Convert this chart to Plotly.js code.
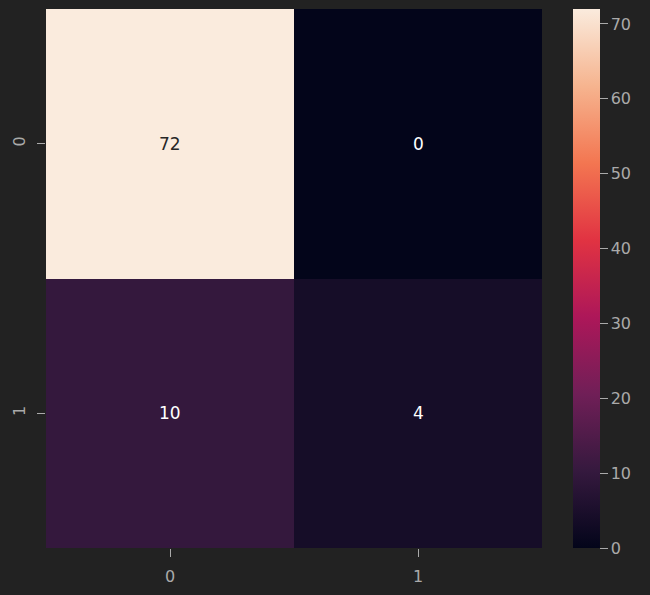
<!DOCTYPE html>
<html>
<head>
<meta charset="utf-8">
<script src="https://cdn.plot.ly/plotly-3.0.1.min.js"></script>
<style>html,body{margin:0;padding:0;background:#222222;}</style>
</head>
<body>
<div id="chart" style="width:650px;height:595px;"></div>
<script>
const xLabels = ['0', '1'];
const yLabels = ['0', '1'];
const values = [[72, 0], [10, 4]];
const colorbarTicks = [0, 10, 20, 30, 40, 50, 60, 70];

const rocket = [
  [0.0, '#03051A'],
  [0.1429, '#35193E'],
  [0.2857, '#701F57'],
  [0.4286, '#AD1759'],
  [0.5714, '#E13342'],
  [0.7143, '#F37651'],
  [0.8571, '#F6B48F'],
  [1.0, '#FAEBDD']
];

const zmax = 72;
const annotations = [];
for (let i = 0; i < yLabels.length; i++) {
  for (let j = 0; j < xLabels.length; j++) {
    const v = values[i][j];
    annotations.push({
      x: j, y: i, xref: 'x', yref: 'y', text: String(v), showarrow: false,
      font: {family: 'DejaVu Sans', size: 17, color: v / zmax > 0.6 ? '#262626' : '#ffffff'}
    });
  }
}

const tickFont = {family: 'DejaVu Sans', size: 16, color: '#aaaaaa'};

const trace = {
  type: 'heatmap',
  z: values,
  x: [0, 1],
  y: [0, 1],
  zmin: 0, zmax: zmax,
  colorscale: rocket,
  hoverinfo: 'z',
  colorbar: {
    x: 1.0625, xanchor: 'left', xpad: 0,
    y: 0.5, yanchor: 'middle', len: 1, lenmode: 'fraction', ypad: 0,
    thickness: 27, outlinewidth: 0,
    tickvals: colorbarTicks, ticks: 'outside', ticklen: 8, tickwidth: 1, tickcolor: '#aaaaaa',
    tickprefix: '\u00a0\u00a0',
    tickfont: tickFont
  }
};

const layout = {
  width: 650, height: 595,
  paper_bgcolor: '#222222', plot_bgcolor: '#222222',
  margin: {l: 46, r: 108, t: 9, b: 47},
  xaxis: {
    tickvals: [0, 1], ticktext: xLabels, range: [-0.5, 1.5],
    showgrid: false, zeroline: false, showline: false,
    ticks: 'outside', ticklen: 8, tickwidth: 1, tickcolor: '#aaaaaa',
    ticklabelstandoff: 6,
    tickfont: tickFont
  },
  yaxis: {
    tickvals: [0, 1], ticktext: yLabels, range: [1.5, -0.5],
    showgrid: false, zeroline: false, showline: false,
    ticks: 'outside', ticklen: 8, tickwidth: 1, tickcolor: '#aaaaaa', tickangle: -90,
    ticklabelstandoff: 6,
    tickfont: tickFont
  },
  annotations: annotations
};

Plotly.newPlot('chart', [trace], layout, {displayModeBar: false, staticPlot: true});
</script>
</body>
</html>
